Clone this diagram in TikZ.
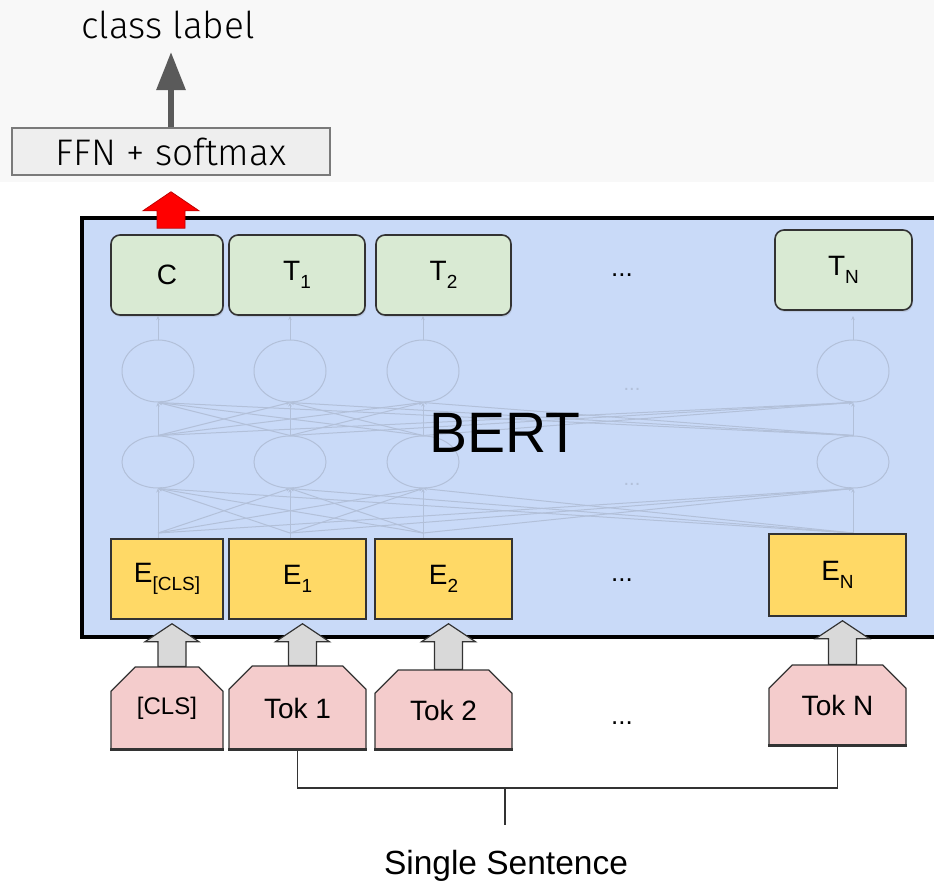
\documentclass[tikz,border=0pt]{standalone}
\usepackage{fontspec}
\setmainfont{Liberation Sans}
\newfontfamily\fira{Fira Sans Light}
\usetikzlibrary{shapes.misc,shapes.geometric,arrows.meta,calc,shadows}
\definecolor{bgtop}{HTML}{F8F8F8}
\definecolor{bertblue}{HTML}{C9DAF8}
\definecolor{gfill}{HTML}{D9EAD3}
\definecolor{yfill}{HTML}{FFD966}
\definecolor{pfill}{HTML}{F4CCCC}
\definecolor{afill}{HTML}{D9D9D9}
\definecolor{faint}{HTML}{B2C0D9}
\definecolor{ffnfill}{HTML}{EEEEEE}
\definecolor{ffnline}{HTML}{7A7A7A}
\definecolor{darkarr}{HTML}{5A5A5A}
\definecolor{redfill}{HTML}{FF0000}
\definecolor{reddraw}{HTML}{C00000}
\definecolor{edge}{HTML}{333333}
\newcommand\sbs[1]{\raisebox{-8pt}{\fontsize{19}{19}\selectfont #1}}
\begin{document}
\begin{tikzpicture}[x=1pt,y=-1pt,
  gbox/.style={rectangle, rounded corners=9pt, fill=gfill, draw=edge, line width=1.6pt,
     minimum height=80pt, inner sep=0pt, font=\fontsize{28}{28}\selectfont,
     drop shadow={opacity=0.2, shadow xshift=1pt, shadow yshift=-2pt}},
  ybox/.style={rectangle, fill=yfill, draw=edge, line width=1.5pt,
     minimum height=80pt, inner sep=0pt, font=\fontsize{28}{28}\selectfont},
  tbox/.style={chamfered rectangle, chamfered rectangle corners={north east,north west},
     chamfered rectangle xsep=13pt, chamfered rectangle ysep=13pt,
     fill=pfill, draw=edge, line width=1.3pt, inner sep=0pt, font=\fontsize{28}{28}\selectfont},
  fell/.style={ellipse, draw=faint, line width=1pt, minimum width=72pt, inner sep=0pt},
  fline/.style={draw=faint, line width=1pt, -{Stealth[length=4pt,width=3.5pt]}},
  garr/.style={fill=afill, draw=edge, line width=1.2pt},
  dots/.style={inner sep=0pt, font=\fontsize{26}{26}\selectfont},
  conn/.style={draw=edge, line width=1.5pt}
]
\useasboundingbox (0,0) rectangle (934,881);
\fill[white] (0,0) rectangle (934,881);
\fill[bgtop] (0,0) rectangle (934,182);

% top part
\node[inner sep=0pt, font=\fira\fontsize{37}{37}\selectfont, anchor=base] (lab) at (168,38) {class label};
\node[rectangle, fill=ffnfill, draw=ffnline, line width=1.5pt, minimum width=318pt, minimum height=47pt,
      inner sep=0pt, font=\fira\fontsize{37}{37}\selectfont] (ffn) at (171,151.5) {FFN + softmax};
\draw[darkarr, line width=6pt, -{Triangle[width=28pt,length=38pt]}, shorten >=14pt] (ffn.north) -- (ffn.north |- lab.base);

% BERT box
\begin{scope}
\clip (0,0) rectangle (934,881);
\draw[line width=4pt, fill=bertblue] (82,218) rectangle (960,637);
\end{scope}

% internal network
\foreach \i/\x in {1/158,2/290,3/423,4/853} {
  \node[fell, minimum height=62pt] (u\i) at (\x,371) {};
  \node[fell, minimum height=52pt] (l\i) at (\x,462) {};
  \coordinate (b\i) at (\x,533);
  \coordinate (o\i) at (\x,316);
  \coordinate (eb\i) at (\x,539);
}
\foreach \i in {1,...,4} {
  \draw[fline] (u\i.north) -- (o\i);
  \draw[fline] (l\i.north) -- (u\i.south);
  \draw[fline] (eb\i) -- (l\i.south);
  \foreach \j in {1,...,4} {
    \ifnum\i=\j\else
      \draw[fline] (l\i.north) -- (u\j.south);
      \draw[fline] (b\i) -- (l\j.south);
    \fi
  }
}
\node[dots, text=faint, font=\fontsize{20}{20}\selectfont] (fd1) at (632,389) {...};
\node[dots, text=faint, font=\fontsize{20}{20}\selectfont] (fd2) at (632,484) {...};
\node[inner sep=0pt, font=\fontsize{57}{57}\selectfont] (bert) at (505,433) {BERT};

% output boxes
\node[gbox, minimum width=112pt] (C) at (167,275) {C};
\node[gbox, minimum width=136pt] (T1) at (297,275) {T\sbs{1}};
\node[gbox, minimum width=135pt] (T2) at (443.5,275) {T\sbs{2}};
\node[dots] (d1) at (622,275) {...};
\node[gbox, minimum width=137pt] (TN) at (843.5,270) {T\sbs{N}};

% embeddings
\node[ybox, minimum width=112pt] (E0) at (167,579) {E\sbs{[CLS]}};
\node[ybox, minimum width=137pt] (E1) at (297.5,579) {E\sbs{1}};
\node[ybox, minimum width=137pt] (E2) at (443.5,579) {E\sbs{2}};
\node[dots] (d2) at (622,580) {...};
\node[ybox, minimum width=137pt, minimum height=82pt] (EN) at (837.5,575) {E\sbs{N}};

% red arrow
\filldraw[fill=redfill, draw=reddraw, line width=0.8pt] let \p1=(ffn.south), \p2=(C.north) in
  (\x1,\y1-16pt) -- (\x1+28pt,\y1-35pt) -- (\x1+14pt,\y1-35pt) -- (\x1+14pt,\y2+6pt)
  -- (\x1-14pt,\y2+6pt) -- (\x1-14pt,\y1-35pt) -- (\x1-28pt,\y1-35pt) -- cycle;

% tokens
\node[tbox, minimum width=112pt, minimum height=83pt, font=\fontsize{24}{24}\selectfont] (t0) at (167,708.5) {[CLS]};
\node[tbox, minimum width=137pt, minimum height=84pt] (t1) at (297.5,708) {Tok 1};
\node[tbox, minimum width=137pt, minimum height=80pt] (t2) at (443.5,710) {Tok 2};
\node[dots] (d3) at (622,723) {...};
\node[tbox, minimum width=137pt, minimum height=81pt] (tN) at (837.5,705.5) {Tok N};
\foreach \t in {t0,t1,t2,tN} {
  \draw[edge, line width=2.5pt] ([yshift=1pt]\t.south west) -- ([yshift=1pt]\t.south east);
}

% gray block arrows
\foreach \t/\e in {t0/E0,t1/E1,t2/E2,tN/EN} {
  \filldraw[garr] let \p1=(\t.north), \p2=(\e.south) in
    (\x1+5pt,\y2-4pt) -- (\x1+32pt,\y2-22pt) -- (\x1+19pt,\y2-22pt) -- (\x1+19pt,\y1)
    -- (\x1-9pt,\y1) -- (\x1-9pt,\y2-22pt) -- (\x1-22pt,\y2-22pt) -- cycle;
}

% sentence connectors
\coordinate (bar) at (505,788);
\coordinate (barend) at (505,825);
\draw[conn] (t1.south) |- (bar) -| (tN.south);
\draw[conn] (bar) -- (barend);
\node[inner sep=0pt, anchor=base, font=\fontsize{33.5}{33.5}\selectfont] (sent) at (506,874) {Single Sentence};
\end{tikzpicture}
\end{document}
